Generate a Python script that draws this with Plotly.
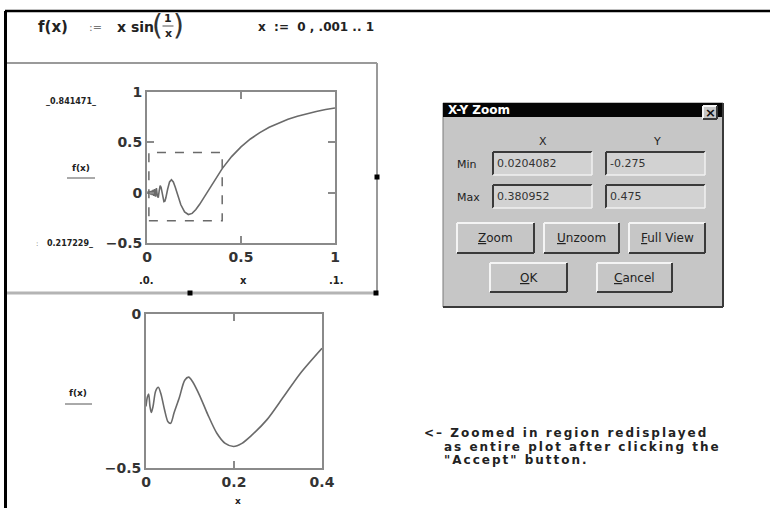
import plotly.graph_objects as go

W, H = 770, 508

# ---------------- data ----------------
# full plot  f(x) over 0..1
top_x = [0.0, 0.004, 0.007, 0.010, 0.013, 0.016, 0.020, 0.024, 0.028, 0.032, 0.036,
         0.040, 0.045, 0.050, 0.055, 0.060, 0.065, 0.070, 0.075, 0.080, 0.085, 0.090,
         0.095, 0.100, 0.110, 0.120, 0.130, 0.140, 0.150, 0.160, 0.180, 0.200, 0.220,
         0.240, 0.260, 0.280, 0.300, 0.330, 0.360, 0.400, 0.450, 0.500, 0.550, 0.600,
         0.650, 0.700, 0.750, 0.800, 0.850, 0.900, 0.950, 1.000]
top_y = [0.0, 0.003, -0.006, 0.009, -0.012, 0.014, -0.018, 0.021, -0.025, 0.028, -0.032,
         0.036, -0.040, 0.046, -0.033, -0.049, 0.019, 0.069, 0.052, -0.005, -0.061, -0.089,
         -0.085, -0.054, 0.036, 0.107, 0.128, 0.106, 0.056, -0.005, -0.120, -0.192, -0.217,
         -0.206, -0.168, -0.116, -0.057, 0.037, 0.128, 0.239, 0.358, 0.455, 0.533, 0.597,
         0.650, 0.693, 0.729, 0.759, 0.784, 0.807, 0.826, 0.841]

# zoomed plot (redisplayed region)
zoom_x = [0.0, 0.003, 0.006, 0.009, 0.012, 0.016, 0.022, 0.028, 0.034, 0.042, 0.050,
          0.056, 0.064, 0.076, 0.088, 0.097, 0.106, 0.123, 0.140, 0.161, 0.180, 0.199,
          0.218, 0.237, 0.275, 0.313, 0.351, 0.400]
zoom_y = [-0.30, -0.27, -0.26, -0.30, -0.32, -0.30, -0.25, -0.238, -0.26, -0.31, -0.35,
          -0.355, -0.32, -0.27, -0.215, -0.205, -0.22, -0.268, -0.325, -0.387, -0.42, -0.43,
          -0.42, -0.398, -0.343, -0.268, -0.192, -0.111]

# dashed zoom rectangle on the full plot
box_x = [0.01, 0.40]
box_y = [-0.28, 0.40]

top_xticks = [0, 0.5, 1]
top_yticks = [-0.5, 0, 0.5, 1]
zoom_xticks = [0, 0.2, 0.4]
zoom_yticks = [-0.5, 0]

dlg_min = ["0.0204082", "-0.275"]
dlg_max = ["0.380952", "0.475"]
dlg_buttons_row1 = ["<u>Z</u>oom", "<u>U</u>nzoom", "<u>F</u>ull View"]
dlg_buttons_row2 = ["<u>O</u>K", "<u>C</u>ancel"]

note_lines = ["<\u2013 Zoomed in region redisplayed",
              "as entire plot after clicking the",
              "\"Accept\" button."]

# ---------------- helpers ----------------
def PX(x):
    return x / W

def PY(y):
    return 1 - y / H

FONT = "DejaVu Sans"
shapes = []
annotations = []

def rect(x0, y0, x1, y1, fill=None, line=None, lw=1, dash=None):
    d = dict(type="rect", xref="paper", yref="paper",
             x0=PX(x0), x1=PX(x1), y0=PY(y0), y1=PY(y1), layer="above",
             line=dict(width=lw if line else 0, color=line or "rgba(0,0,0,0)"))
    if dash:
        d["line"]["dash"] = dash
    if fill:
        d["fillcolor"] = fill
    shapes.append(d)

def hline(x0, x1, y, color, lw):
    shapes.append(dict(type="line", xref="paper", yref="paper", x0=PX(x0), x1=PX(x1),
                       y0=PY(y), y1=PY(y), line=dict(color=color, width=lw), layer="above"))

def vline(x, y0, y1, color, lw):
    shapes.append(dict(type="line", xref="paper", yref="paper", x0=PX(x), x1=PX(x),
                       y0=PY(y0), y1=PY(y1), line=dict(color=color, width=lw), layer="above"))

def txt(x, y, s, size=12, color="#222", bold=False, xanchor="center", family=FONT):
    annotations.append(dict(xref="paper", yref="paper", x=PX(x), y=PY(y), text=s,
                            showarrow=False, xanchor=xanchor, yanchor="middle",
                            borderpad=0,
                            font=dict(family=family, size=size, color=color,
                                      weight="bold" if bold else "normal")))

def raised(x0, y0, x1, y1, label):
    rect(x0, y0, x1, y1, fill="#c6c6c6")
    hline(x0, x1, y0, "#f4f4f4", 2)
    vline(x0, y0, y1, "#f4f4f4", 2)
    hline(x0, x1, y1, "#3a3a3a", 2)
    vline(x1, y0, y1, "#3a3a3a", 2)
    if label:
        txt((x0 + x1) / 2, (y0 + y1) / 2, label, size=12, color="#222")

def sunken(x0, y0, x1, y1, label):
    rect(x0, y0, x1, y1, fill="#d2d2d2")
    hline(x0, x1, y0, "#3a3a3a", 2)
    vline(x0, y0, y1, "#3a3a3a", 2)
    hline(x0, x1, y1, "#f0f0f0", 1.5)
    vline(x1, y0, y1, "#f0f0f0", 1.5)
    txt(x0 + 3, (y0 + y1) / 2, label, size=11, color="#333", xanchor="left")

# ---------------- figure ----------------
fig = go.Figure()
fig.add_trace(go.Scatter(x=top_x, y=top_y, xaxis="x", yaxis="y", mode="lines",
                         line=dict(color="#6a6a6a", width=1.6), showlegend=False,
                         hoverinfo="skip"))
fig.add_trace(go.Scatter(x=zoom_x, y=zoom_y, xaxis="x2", yaxis="y2", mode="lines",
                         line=dict(color="#6a6a6a", width=1.6, shape="spline", smoothing=0.8),
                         showlegend=False, hoverinfo="skip"))

# dashed zoom box
shapes.append(dict(type="rect", xref="x", yref="y", x0=box_x[0], x1=box_x[1],
                   y0=box_y[0], y1=box_y[1], line=dict(color="#6a6a6a", width=1.5, dash="dash"),
                   layer="above"))

axis_common = dict(showgrid=False, zeroline=False, showline=True, linecolor="#8a8a8a",
                   linewidth=2, mirror="ticks", ticks="inside", ticklen=7, tickwidth=1.5,
                   tickcolor="#8a8a8a", fixedrange=True, automargin=False,
                   tickfont=dict(family=FONT, size=14, color="#333", weight="bold"))

def lab(v):
    s = f"{v:g}"
    return s.replace("-", "\u2212")

fig.update_layout(
    width=W, height=H, margin=dict(l=0, r=0, t=0, b=0, pad=0, autoexpand=False),
    paper_bgcolor="white", plot_bgcolor="white", showlegend=False,
    xaxis=dict(domain=[147 / W, 335 / W], range=[0, 1], anchor="y",
               tickvals=top_xticks, ticktext=[lab(v) for v in top_xticks], **axis_common),
    yaxis=dict(domain=[1 - 243 / H, 1 - 92 / H], range=[-0.5, 1], anchor="x",
               tickvals=top_yticks, ticktext=[lab(v) for v in top_yticks], **axis_common),
    xaxis2=dict(domain=[146 / W, 322 / W], range=[0, 0.4], anchor="y2",
                tickvals=zoom_xticks, ticktext=[lab(v) for v in zoom_xticks], **axis_common),
    yaxis2=dict(domain=[1 - 468 / H, 1 - 314 / H], range=[-0.5, 0], anchor="x2",
                tickvals=zoom_yticks, ticktext=[lab(v) for v in zoom_yticks], **axis_common),
)

# ---- worksheet frame ----
hline(5, 770, 11, "#000", 2.5)
vline(5.5, 11, 508, "#000", 3)

# selected region border + handles
hline(7, 377, 63, "#9a9a9a", 2)
vline(377, 63, 293, "#9a9a9a", 2)
hline(7, 377, 293, "#b4b4b4", 3)
for (hx, hy) in [(377, 177), (190, 293), (376, 293)]:
    rect(hx - 2.5, hy - 2.5, hx + 2.5, hy + 2.5, fill="#000")

# ---- equation line ----
txt(53, 27, "f(x)", size=15, bold=True)
txt(95, 27, ":=", size=11, color="#777")
txt(135, 27, "x sin", size=14, bold=True)
txt(157.5, 25, "(", size=28, color="#333")
txt(178.5, 25, ")", size=28, color="#333")
txt(168, 18, "1", size=11, bold=True)
hline(162.5, 173.5, 26, "#555", 1)
txt(168, 33, "x", size=11, bold=True)
txt(316, 27, "x  :=  0 , .001 .. 1", size=12, bold=True)

# ---- top plot labels ----
txt(71, 102, "_0.841471_", size=8, bold=True)
txt(81, 168, "f(x)", size=9, bold=True)
hline(67, 95, 178, "#555", 1)
txt(37, 244, ":", size=7, color="#555")
txt(70, 243, "0.217229_", size=8, bold=True)
txt(146, 280, ".0.", size=10, bold=True)
txt(243, 280, "x", size=10, bold=True)
txt(336, 280, ".1.", size=10, bold=True)

# ---- bottom plot labels ----
txt(78, 393, "f(x)", size=9, bold=True)
hline(65, 92, 404, "#555", 1)
txt(238, 501, "x", size=9, bold=True)

# ---- dialog ----
rect(443, 103, 723, 307, fill="#c6c6c6", line="#7a7a7a", lw=1)
vline(723, 103, 307, "#3a3a3a", 2)
hline(443, 723, 307, "#3a3a3a", 2)
rect(443, 103, 722, 117, fill="#050505")
txt(447, 110, "X-Y Zoom", size=12, color="#fff", bold=True, xanchor="left")
raised(703, 106, 717, 119, "")
txt(710, 112.5, "\u00d7", size=13, color="#111", bold=True)
txt(543, 142, "X", size=11)
txt(657, 142, "Y", size=11)
txt(456, 164, "Min", size=11, xanchor="left")
txt(456, 197, "Max", size=11, xanchor="left")
sunken(493, 152, 592, 175, dlg_min[0])
sunken(606, 152, 705, 175, dlg_min[1])
sunken(493, 185, 592, 208, dlg_max[0])
sunken(606, 185, 705, 208, dlg_max[1])
for (x0, x1), lbl in zip([(457, 534), (544, 619), (629, 705)], dlg_buttons_row1):
    raised(x0, 223, x1, 253, lbl)
for (x0, x1), lbl in zip([(490, 567), (597, 672)], dlg_buttons_row2):
    raised(x0, 263, x1, 292, lbl)

# ---- note ----
SP = '<span style="letter-spacing:2px">%s</span>'
txt(423, 433, SP % note_lines[0], size=12, bold=True, xanchor="left")
txt(443, 446.5, SP % note_lines[1], size=12, bold=True, xanchor="left")
txt(443, 460, SP % note_lines[2], size=12, bold=True, xanchor="left")

fig.update_layout(shapes=shapes, annotations=annotations)
fig.write_html("out.html", config={"displayModeBar": False},
               post_script="document.body.style.margin='0';document.body.style.overflow='hidden';")
